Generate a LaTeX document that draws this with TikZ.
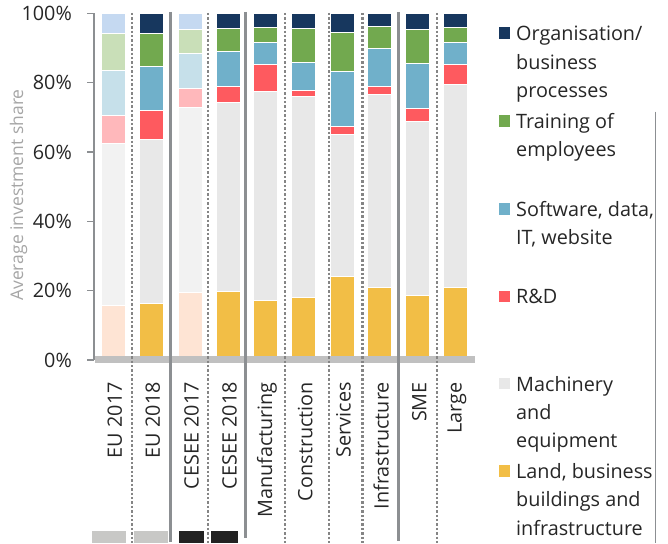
\documentclass[tikz,border=0pt]{standalone}
\usepackage{fontspec}
\setmainfont{Open Sans}
\definecolor{norg}{HTML}{17375E}
\definecolor{ngrn}{HTML}{72A94F}
\definecolor{nblu}{HTML}{70B0CA}
\definecolor{nred}{HTML}{FE5A5F}
\definecolor{ngry}{HTML}{E8E8E8}
\definecolor{nyel}{HTML}{F2BE46}
\definecolor{forg}{HTML}{C5D9F1}
\definecolor{fgrn}{HTML}{C9DFB8}
\definecolor{fblu}{HTML}{C6E0EA}
\definecolor{fred}{HTML}{FFB8BB}
\definecolor{fgry}{HTML}{F2F2F2}
\definecolor{fyel}{HTML}{FEE4D4}
\definecolor{txt}{HTML}{262626}
\definecolor{axgray}{HTML}{8C8F92}
\definecolor{dotgray}{HTML}{858585}
\definecolor{bandgray}{HTML}{C0C0C0}
\definecolor{boxlight}{HTML}{C8C8C6}
\definecolor{boxdark}{HTML}{222222}
\definecolor{titlegray}{HTML}{A6A6A6}
\begin{document}
\begin{tikzpicture}[x=1pt,y=-1pt,
  lbl/.style={font=\fontsize{19.8}{24}\selectfont, text=txt, inner sep=0pt},
  cat/.style={lbl, rotate=90, anchor=east},
  tick/.style={lbl, anchor=east},
  leg/.style={lbl, anchor=base west},
  seg/.style={draw=white, line width=0.8pt},
  sepsolid/.style={draw=axgray, line width=2.6pt},
  sepdot/.style={draw=dotgray, line width=2.4pt, dash pattern=on 2.4pt off 2pt},
  legsq/.style={minimum size=11.5pt, inner sep=0pt, anchor=south west}]
\useasboundingbox (0,0) rectangle (668,543);
% bars
\begin{scope}[shift={(0,360)}, y=3.465pt]
\foreach \c/\p/\a/\b/\d/\e/\f in {
  113.4/f/15.8/62.5/70.5/83.6/94.2,
  151.3/n/16.4/63.8/71.9/84.6/94.3,
  190.0/f/19.5/72.8/78.3/88.5/95.3,
  228.0/n/19.7/74.3/79.1/89.0/95.7,
  265.3/n/17.1/77.4/85.4/91.8/95.9,
  303.7/n/18.0/76.0/77.9/85.8/95.7,
  342.0/n/24.2/65.0/67.5/83.3/94.5,
  379.7/n/20.9/76.6/79.1/89.8/96.2,
  417.7/n/18.6/68.8/72.6/85.5/95.5,
  455.5/n/21.0/79.6/85.2/91.7/95.9}{
  \filldraw[seg, fill=\p yel] (\c-12,0) rectangle (\c+12,\a);
  \filldraw[seg, fill=\p gry] (\c-12,\a) rectangle (\c+12,\b);
  \filldraw[seg, fill=\p red] (\c-12,\b) rectangle (\c+12,\d);
  \filldraw[seg, fill=\p blu] (\c-12,\d) rectangle (\c+12,\e);
  \filldraw[seg, fill=\p grn] (\c-12,\e) rectangle (\c+12,\f);
  \filldraw[seg, fill=\p org] (\c-12,\f) rectangle (\c+12,100);
}
\draw[axgray, line width=1.3pt] (94,0) -- (94,100);
\foreach \v in {0,20,40,60,80,100}{
  \draw[axgray, line width=1.3pt] (87,\v) -- (94,\v);
  \node[tick] (t\v) at (72,\v) {\v\%};
}
\end{scope}
% baseline band
\fill[bandgray] (94.5,355.7) rectangle (475,363.3);
% separators
\foreach \x in {131.7,207.7,285,329,362.5,436.7}
  \draw[sepdot] (\x,13) -- (\x,543);
\draw[sepsolid] (170.7,12) -- (170.7,541.7);
\draw[sepsolid] (245.5,12) -- (245.5,538);
\draw[sepsolid] (398.3,12) -- (398.3,540.7);
% axis title
\node[font=\fontsize{17.5}{20}\selectfont, text=titlegray, rotate=90, inner sep=0pt] (ytitle) at (18.5,195) {Average investment share};
% category labels
\foreach \c/\t [count=\i] in {113.4/EU 2017,151.3/EU 2018,190/CESEE 2017,228/CESEE 2018,265.3/Manufacturing,303.7/Construction,342/Services,379.7/Infrastructure,417.7/SME,455.5/Large}
  \node[cat] (c\i) at (\c+1.5,382) {\t};
% bottom boxes
\fill[boxlight] (92.3,531) rectangle (125.7,543);
\fill[boxlight] (134,531) rectangle (167.5,543);
\fill[boxdark] (178.7,531) rectangle (204.3,543);
\fill[boxdark] (211,531) rectangle (238.3,543);
% legend
\draw[axgray, line width=1.5pt] (655.7,111.7) -- (655.7,543);
\node[legsq, fill=norg] (s1) at (498.5,39.2) {};
\node[legsq, fill=ngrn] (s2) at (498.5,126.7) {};
\node[legsq, fill=nblu] (s3) at (498.5,214.7) {};
\node[legsq, fill=nred] (s4) at (498.5,302.2) {};
\node[legsq, fill=ngry] (s5) at (498.5,389.5) {};
\node[legsq, fill=nyel] (s6) at (498.5,477) {};
\node[leg] (l1a) at (516,40.7) {Organisation/};
\node[leg] (l1b) at (516,69) {business};
\node[leg] (l1c) at (516,97.3) {processes};
\node[leg] (l2a) at (516,128.2) {Training of};
\node[leg] (l2b) at (516,156.5) {employees};
\node[leg] (l3a) at (516,216.2) {Software, data,};
\node[leg] (l3b) at (516,244.5) {IT, website};
\node[leg] (l4a) at (516,303.7) {R\&D};
\node[leg] (l5a) at (516,391) {Machinery};
\node[leg] (l5b) at (516,419.3) {and};
\node[leg] (l5c) at (516,447.6) {equipment};
\node[leg] (l6a) at (516,478.5) {Land, business};
\node[leg] (l6b) at (516,506.8) {buildings and};
\node[leg] (l6c) at (516,535.1) {infrastructure};
\end{tikzpicture}
\end{document}
